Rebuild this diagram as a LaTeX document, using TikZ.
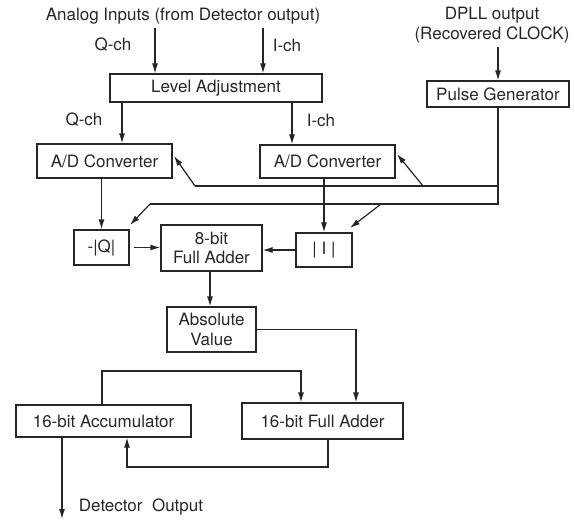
\documentclass[tikz,border=0pt]{standalone}
\usepackage{fontspec}
\setmainfont{TeX Gyre Heros}
\usetikzlibrary{arrows.meta}
\begin{document}
\begin{tikzpicture}[x=1pt,y=-1pt,
  every node/.style={font=\fontsize{17}{19.5}\selectfont, text=black!85},
  blk/.style={draw=black!85, line width=1.2pt, inner sep=0pt, align=center},
  wire/.style={draw=black!85, line width=1.2pt},
  arr/.style={wire, -{Latex[length=10pt,width=6pt]}}]
\useasboundingbox (0,0) rectangle (575,520);

% labels
\node (title) at (183,16) {Analog Inputs (from Detector output)};
\node (qch1) at (113,45) {Q-ch};
\node (ich1) at (287,45) {I-ch};
\node (qch2) at (84,120) {Q-ch};
\node (ich2) at (321,120) {I-ch};
\node[align=center, inner sep=0pt] (dpll) at (492,25) {DPLL output\\(Recovered CLOCK)};
\node (detout) at (141,507) {Detector\ \ Output};

% blocks
\node[blk, minimum width=212pt, minimum height=28pt] (level) at (216,88) {Level Adjustment};
\node[blk, minimum width=142pt, minimum height=26pt] (pulse) at (498,94) {Pulse Generator};
\node[blk, minimum width=135pt, minimum height=34pt] (adl) at (104.5,161) {A/D Converter};
\node[blk, minimum width=135pt, minimum height=33pt] (adr) at (327.5,161.5) {A/D Converter};
\node[blk, minimum width=55pt, minimum height=35pt] (negq) at (101.5,247.5) {-|Q|};
\node[blk, minimum width=101pt, minimum height=46pt] (add8) at (211.5,248) {8-bit\\Full Adder};
\node[blk, minimum width=56pt, minimum height=34pt] (absi) at (324,250) {|\ I\ |};
\node[blk, minimum width=89pt, minimum height=45pt] (absv) at (211.5,329.5) {Absolute\\Value};
\node[blk, minimum width=175pt, minimum height=32pt] (acc) at (103.5,421) {16-bit Accumulator};
\node[blk, minimum width=161pt, minimum height=36pt] (add16) at (322.5,421) {16-bit Full Adder};

% coordinates
\coordinate (qin) at (155,28);
\coordinate (iin) at (263,28);
\coordinate (busA) at (498,186);
\coordinate (busB) at (498,204);
\coordinate (tipadl) at (174,156);
\coordinate (tipadr) at (397,154);
\coordinate (tipnq) at (130,225);
\coordinate (tipai) at (350,228);
\coordinate (out) at (62,519);

% inputs
\draw[arr] (qin) -- (qin |- level.north);
\draw[arr] (iin) -- (iin |- level.north);
\draw[arr] (level.south -| 122,0) -- (adl.north -| 122,0);
\draw[arr] (level.south -| 292,0) -- (adr.north -| 292,0);
\draw[arr] (dpll.south -| pulse.north) ++(0,4) -- (pulse.north);

% clock distribution
\draw[wire] (pulse.south) -- (busB) -- (150,204);
\draw[arr] (150,204) -- (tipnq);
\draw[wire] (busA) -- (195,186);
\draw[arr] (195,186) -- (tipadl);
\draw[arr] (423,186) -- (tipadr);
\draw[arr] (381,204) -- (tipai);

% data path
\draw[arr] (negq.north |- adl.south) -- (negq.north);
\draw[arr] (absi.north |- adr.south) -- (absi.north);
\draw[arr] ([xshift=4pt]negq.east) -- (negq.east -| add8.west);
\draw[arr] (absi.west) -- (absi.west -| add8.east);
\draw[arr] (add8.south -| 210,0) -- (absv.north -| 210,0);
\draw[arr] (absv.east) -| (add16.north -| 356,0);
\draw[arr] (acc.north -| 102,0) -- (102,371) -| (add16.north -| 301,0);
\draw[arr] (add16.south -| 328,0) -- (328,467) -| (acc.south -| 127,0);
\draw[arr] (acc.south -| out) -- (out);
\end{tikzpicture}
\end{document}
